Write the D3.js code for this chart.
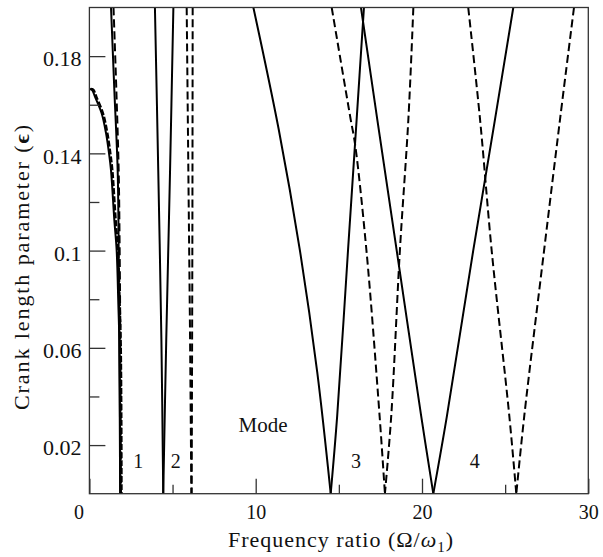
<!DOCTYPE html>
<html>
<head>
<meta charset="utf-8">
<script src="https://cdn.jsdelivr.net/npm/d3@7"></script>
<style>
  body { margin: 0; background: #fff; }
  svg text { font-family: "Liberation Serif", "DejaVu Serif", serif; fill: #111; }
</style>
</head>
<body>
<div id="chart"></div>
<script>
// boundary curves, each point is [frequency ratio, crank length eps]
var mode1Curve     = [[0, 0.1665], [0.15, 0.1662], [0.34, 0.1632], [0.74, 0.1564], [1.0, 0.1483], [1.18, 0.140], [1.30, 0.133], [1.5, 0.1125], [1.64, 0.100], [1.74, 0.078], [1.80, 0.063], [1.84, 0.03], [1.85, 0]];
var mode1Steep     = [[1.30, 0.2], [1.50, 0.166], [1.70, 0.133], [1.76, 0.1], [1.81, 0.05], [1.85, 0]];
var mode1SteepDash = [[1.45, 0.2], [1.62, 0.166], [1.76, 0.133], [1.82, 0.1], [1.87, 0.05], [1.90, 0]];
var mode2Left      = [[3.94, 0.2], [4.14, 0.133], [4.33, 0.063], [4.44, 0]];
var mode2Right     = [[5.05, 0.2], [4.85, 0.133], [4.62, 0.063], [4.44, 0]];
var mode2DashLeft  = [[5.85, 0.2], [5.95, 0.133], [6.05, 0.066], [6.13, 0]];
var mode2DashRight = [[6.21, 0.2], [6.19, 0.1], [6.15, 0]];
var mode3Left      = [[9.86, 0.2], [11.38, 0.15], [12.66, 0.1], [13.7, 0.05], [14.51, 0]];
var mode3Right     = [[16.51, 0.2], [16.07, 0.154], [15.55, 0.1], [14.9, 0.032], [14.51, 0]];
var mode3DashLeft  = [[14.57, 0.2], [15.71, 0.154], [15.97, 0.144], [16.66, 0.1], [17.45, 0.032], [17.77, 0]];
var mode3DashRight = [[19.48, 0.2], [19.18, 0.154], [18.67, 0.1], [18.15, 0.032], [17.77, 0]];
var mode4Left      = [[16.33, 0.2], [17.31, 0.154], [18.48, 0.1], [19.95, 0.032], [20.68, 0]];
var mode4Right     = [[25.49, 0.2], [24.39, 0.154], [23.08, 0.1], [21.5, 0.032], [20.68, 0]];
var mode4DashLeft  = [[22.78, 0.2], [23.49, 0.154], [24.19, 0.1], [25.25, 0.032], [25.67, 0]];
var mode4DashRight = [[29.14, 0.2], [28.3, 0.154], [27.34, 0.1], [26.15, 0.032], [25.67, 0]];

var modeNames = ["1", "2", "3", "4"];
var modeNameX = [2.94, 5.2, 16.03, 23.17];
var modeNameY = 0.0106;

var xMajor = [0, 10, 20, 30];
var xMinor = [5, 15, 25];
var yMajor = [0.02, 0.06, 0.1, 0.14, 0.18];
var yMinor = [0.04, 0.08, 0.12, 0.16];

var serif = '"Liberation Serif", "DejaVu Serif", serif';

var svgWidth = 603;
var svgHeight = 557;
var margin = { top: 7.5, right: 14.7, bottom: 63.3, left: 89.4 };
var width = svgWidth - margin.left - margin.right;
var height = svgHeight - margin.top - margin.bottom;

var svg = d3.select("#chart")
  .append("svg")
  .attr("width", svgWidth)
  .attr("height", svgHeight)
  .style("font-family", serif);

var chartGroup = svg.append("g")
  .attr("transform", `translate(${margin.left}, ${margin.top})`);

var x = d3.scaleLinear().domain([0, 30]).range([0, width]);
var y = d3.scaleLinear().domain([0, 0.2]).range([height, 0]);

chartGroup.append("clipPath").attr("id", "plotClip")
  .append("rect").attr("width", width).attr("height", height);

var line = d3.line()
  .x(d => x(d[0]))
  .y(d => y(d[1]))
  .curve(d3.curveCatmullRom.alpha(0.5));

var solids = [mode1Curve, mode1Steep, mode2Left, mode2Right, mode3Left, mode3Right, mode4Left, mode4Right];
var dashed = [mode1SteepDash, mode2DashLeft, mode2DashRight, mode3DashLeft, mode3DashRight, mode4DashLeft, mode4DashRight];

var curves = chartGroup.append("g").attr("clip-path", "url(#plotClip)");

curves.selectAll(".solid")
  .data(solids)
  .enter()
  .append("path")
  .attr("class", "solid")
  .attr("d", line)
  .attr("fill", "none")
  .attr("stroke", "#000")
  .attr("stroke-width", 2);

curves.selectAll(".dash")
  .data(dashed)
  .enter()
  .append("path")
  .attr("class", "dash")
  .attr("d", line)
  .attr("fill", "none")
  .attr("stroke", "#000")
  .attr("stroke-width", 2)
  .attr("stroke-dasharray", "8,4");

// the first branch is drawn twice (solid + dashed) so it looks heavy
curves.append("path")
  .attr("d", line(mode1Curve.map(d => [d[0] + 0.08, d[1]])))
  .attr("fill", "none")
  .attr("stroke", "#000")
  .attr("stroke-width", 2.4)
  .attr("stroke-dasharray", "6,2");

// axes, ticks point inwards
var bottomAxis = d3.axisBottom(x).tickValues(xMajor).tickSize(-15).tickPadding(11).tickFormat(d3.format("d"));
var bottomMinor = d3.axisBottom(x).tickValues(xMinor).tickSize(-9).tickFormat("");
var leftAxis = d3.axisLeft(y).tickValues(yMajor).tickSize(-16).tickPadding(8).tickFormat(d => d === 0.1 ? "0.1" : d3.format(".2f")(d));
var leftMinor = d3.axisLeft(y).tickValues(yMinor).tickSize(-10).tickFormat("");

var xg = chartGroup.append("g").attr("transform", `translate(0, ${height})`).call(bottomAxis);
chartGroup.append("g").attr("transform", `translate(0, ${height})`).call(bottomMinor);
var yg = chartGroup.append("g").call(leftAxis);
chartGroup.append("g").call(leftMinor);

svg.selectAll(".domain").remove();
svg.selectAll(".tick line").attr("stroke", "#333").attr("stroke-width", 1.3);
svg.selectAll("g").attr("font-family", null).attr("font-size", null);
xg.selectAll("text").style("font-size", "20px").style("font-family", serif);
xg.selectAll(".tick").filter(d => d === 0).select("text").attr("x", -11);
yg.selectAll("text").style("font-size", "22px").style("font-family", serif).attr("dy", "0.44em");

// frame
chartGroup.append("rect")
  .attr("width", width)
  .attr("height", height)
  .attr("fill", "none")
  .attr("stroke", "#333")
  .attr("stroke-width", 1.3);

// mode labels
chartGroup.selectAll(".modeName")
  .data(modeNames)
  .enter()
  .append("text")
  .attr("class", "modeName")
  .attr("x", (d, i) => x(modeNameX[i]))
  .attr("y", y(modeNameY))
  .attr("text-anchor", "middle")
  .style("font-family", serif)
  .style("font-size", "20px")
  .text(d => d);

chartGroup.append("text")
  .attr("x", x(10.44))
  .attr("y", y(0.0255))
  .attr("text-anchor", "middle")
  .style("font-family", serif)
  .style("font-size", "21px")
  .text("Mode");

// axis titles
var xTitle = svg.append("text")
  .attr("x", 340.5)
  .attr("y", 546.7)
  .attr("text-anchor", "middle")
  .style("font-family", serif)
  .style("font-size", "22px")
  .attr("textLength", 225)
  .attr("lengthAdjust", "spacing");
xTitle.append("tspan").text("Frequency ratio (Ω/");
xTitle.append("tspan").style("font-style", "italic").text("ω");
xTitle.append("tspan").attr("dy", 5).style("font-size", "15px").text("1");
xTitle.append("tspan").attr("dy", -5).text(")");

var yTitle = svg.append("text")
  .attr("transform", "translate(28.5, 267.5) rotate(-90)")
  .attr("text-anchor", "middle")
  .style("font-family", serif)
  .style("font-size", "22px")
  .attr("textLength", 285)
  .attr("lengthAdjust", "spacing");
yTitle.append("tspan").text("Crank length parameter (");
yTitle.append("tspan").style("font-weight", "bold").text("ϵ");
yTitle.append("tspan").text(")");
</script>
</body>
</html>
